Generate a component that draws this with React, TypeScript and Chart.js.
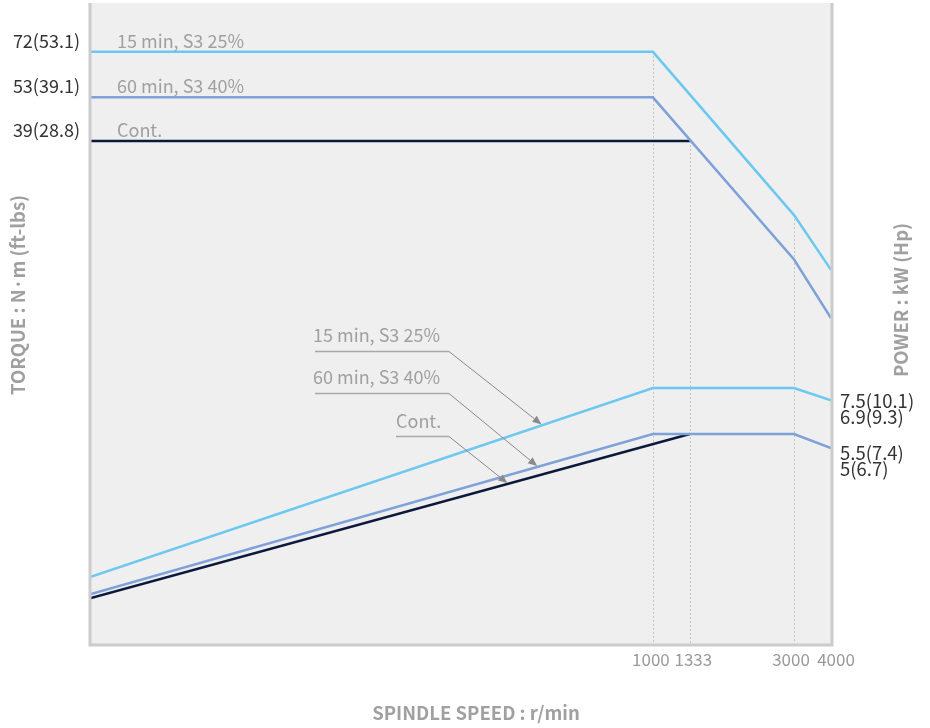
import React, { useEffect, useRef } from "react";
import { Chart, registerables } from "chart.js";

Chart.register(...registerables);

// ---------- data ----------
const speedTicks = [1000, 1333, 3000, 4000];

const torque15Speed = [12.5, 1000, 3000, 4000];
const torque15 = [72, 72, 24, 16.6];
const torque60Speed = [12.5, 1000, 3000, 4000];
const torque60 = [53, 53, 17.8, 12.0];
const torqueContSpeed = [12.5, 1333];
const torqueCont = [39.5, 39.5];

const power15Speed = [12.5, 1000, 3000, 4000];
const power15 = [2.1, 7.5, 7.5, 6.9];
const power60Speed = [12.5, 1000, 3000, 4000];
const power60 = [1.87, 5.5, 5.5, 5.0];
const powerContSpeed = [12.5, 1333];
const powerCont = [1.82, 5.5];

const seriesNames = ["15 min, S3 25%", "60 min, S3 40%", "Cont."];
const torqueLabels = ["72(53.1)", "53(39.1)", "39(28.8)"];
const power15Labels = ["7.5(10.1)", "6.9(9.3)"];
const power60Labels = ["5.5(7.4)", "5(6.7)"];
const arrowTipSpeeds = [420, 406, 322];

const xTitle = "SPINDLE SPEED : r/min";
const yLeftTitle = "TORQUE : N·m (ft-lbs)";
const yRightTitle = "POWER : kW (Hp)";

// ---------- styles ----------
const FONT = '"Noto Sans CJK KR", "Noto Sans", sans-serif';
const C15 = "#6cc8f0";
const C60 = "#7ea1d9";
const CCONT = "#0b1a3c";
const GREY_TEXT = "#a0a0a0";
const DARK_TEXT = "#333333";
const tickLabelShift = [-2, 3.5, -3, 5];

const pts = (xs: number[], ys: number[]) => xs.map((x, i) => ({ x, y: ys[i] }));

function yOnDataset(chart: any, dsIndex: number, px: number): number {
  const meta = chart.getDatasetMeta(dsIndex);
  const els = meta.data;
  for (let i = 0; i < els.length - 1; i++) {
    const a = els[i], b = els[i + 1];
    if (px >= a.x && px <= b.x) {
      const t = (px - a.x) / (b.x - a.x || 1);
      return a.y + t * (b.y - a.y);
    }
  }
  return els[els.length - 1].y;
}

const decorPlugin = {
  id: "decor",
  beforeDatasetsDraw(chart: any) {
    const { ctx, chartArea: ca, scales } = chart;
    const x = scales.x, y = scales.y;
    ctx.save();
    ctx.fillStyle = "#efefef";
    ctx.fillRect(ca.left, ca.top, ca.right - ca.left, ca.bottom - ca.top);

    // dotted guides
    const guides: [number, number][] = [
      [torque15Speed[1], torque15[1]],
      [torqueContSpeed[1], torqueCont[1]],
      [torque15Speed[2], torque15[2]],
    ];
    ctx.strokeStyle = "#c4c4c4";
    ctx.lineWidth = 1;
    ctx.setLineDash([2, 2]);
    guides.forEach(([s, v]) => {
      const px = Math.round(x.getPixelForValue(s)) + 0.5;
      ctx.beginPath();
      ctx.moveTo(px, y.getPixelForValue(v));
      ctx.lineTo(px, ca.bottom);
      ctx.stroke();
    });
    ctx.setLineDash([]);
    ctx.restore();
  },
  afterDatasetsDraw(chart: any) {
    const { ctx, chartArea: ca, scales } = chart;
    const x = scales.x, y = scales.y;
    ctx.save();

    // frame
    ctx.strokeStyle = "#cccccc";
    ctx.lineWidth = 3;
    ctx.beginPath();
    ctx.moveTo(ca.left, ca.top);
    ctx.lineTo(ca.left, ca.bottom);
    ctx.lineTo(ca.right + 1, ca.bottom);
    ctx.lineTo(ca.right + 1, ca.top);
    ctx.stroke();

    // x tick labels (positioned from the x scale)
    ctx.fillStyle = "#9a9a9a";
    ctx.font = `400 17px ${FONT}`;
    ctx.textAlign = "center";
    ctx.textBaseline = "middle";
    x.ticks.forEach((t: any, i: number) => {
      const px = x.getPixelForValue(t.value) + (tickLabelShift[i] || 0);
      ctx.fillText(String(t.value), px, ca.bottom + 15);
    });

    // left torque labels and series names
    const torqueVals = [torque15[0], torque60[0], torqueCont[0]];
    ctx.font = `400 18px ${FONT}`;
    ctx.textBaseline = "alphabetic";
    torqueVals.forEach((v, i) => {
      const py = y.getPixelForValue(v) - 4;
      ctx.fillStyle = DARK_TEXT;
      ctx.textAlign = "right";
      ctx.fillText(torqueLabels[i], ca.left - 10, py);
      ctx.fillStyle = GREY_TEXT;
      ctx.textAlign = "left";
      ctx.fillText(seriesNames[i], ca.left + 27, py);
    });

    // right power labels
    ctx.fillStyle = DARK_TEXT;
    ctx.textAlign = "left";
    ctx.textBaseline = "middle";
    ctx.font = `400 18.5px ${FONT}`;
    const end15 = y.getPixelForValue(power15[power15.length - 1]);
    const end60 = y.getPixelForValue(power60[power60.length - 1]);
    ctx.fillText(power15Labels[0], ca.right + 9, end15 + 1);
    ctx.fillText(power15Labels[1], ca.right + 9, end15 + 17);
    ctx.fillText(power60Labels[0], ca.right + 9, end60 + 5);
    ctx.fillText(power60Labels[1], ca.right + 9, end60 + 21);

    // leader labels with arrows
    const leaders = [
      { ds: 3, textX: 313, textY: 335, lineY: 351.5, startX: 315 },
      { ds: 4, textX: 313, textY: 377, lineY: 393.5, startX: 315 },
      { ds: 5, textX: 396, textY: 421, lineY: 436.5, startX: 396 },
    ];
    const elbowX = 449;
    leaders.forEach((l, i) => {
      const tipX = x.getPixelForValue(arrowTipSpeeds[i]);
      const tipY = yOnDataset(chart, l.ds, tipX) - 1;
      ctx.fillStyle = GREY_TEXT;
      ctx.font = `400 18px ${FONT}`;
      ctx.textAlign = "left";
      ctx.textBaseline = "middle";
      ctx.fillText(seriesNames[i], l.textX, l.textY);
      ctx.strokeStyle = "#a8a8a8";
      ctx.lineWidth = 1.3;
      ctx.beginPath();
      ctx.moveTo(l.startX, l.lineY);
      ctx.lineTo(elbowX, l.lineY);
      ctx.stroke();
      ctx.strokeStyle = "#8a8a8a";
      ctx.lineWidth = 1;
      const ang = Math.atan2(tipY - l.lineY, tipX - elbowX);
      const len = 9, hw = 3.8;
      const bx = tipX - len * Math.cos(ang), by = tipY - len * Math.sin(ang);
      ctx.beginPath();
      ctx.moveTo(elbowX, l.lineY);
      ctx.lineTo(bx, by);
      ctx.stroke();
      ctx.fillStyle = "#8a8a8a";
      ctx.beginPath();
      ctx.moveTo(tipX, tipY);
      ctx.lineTo(bx + hw * Math.sin(ang), by - hw * Math.cos(ang));
      ctx.lineTo(bx - hw * Math.sin(ang), by + hw * Math.cos(ang));
      ctx.closePath();
      ctx.fill();
    });

    // axis titles
    ctx.fillStyle = GREY_TEXT;
    ctx.font = `700 18.5px ${FONT}`;
    ctx.textAlign = "center";
    ctx.textBaseline = "middle";
    ctx.fillText(xTitle, 476, 713);
    ctx.save();
    ctx.translate(18, 295);
    ctx.rotate(-Math.PI / 2);
    ctx.fillText(yLeftTitle, 0, 0);
    ctx.restore();
    ctx.save();
    ctx.translate(901, 300);
    ctx.rotate(-Math.PI / 2);
    ctx.fillText(yRightTitle, 0, 0);
    ctx.restore();

    ctx.restore();
  },
};

const lineDs = (label: string, data: any[], color: string, width: number) => ({
  label,
  data,
  borderColor: color,
  backgroundColor: color,
  borderWidth: width,
  pointRadius: 0,
  pointHoverRadius: 0,
  tension: 0,
  fill: false,
});

export default function App() {
  const ref = useRef<HTMLCanvasElement>(null);
  useEffect(() => {
    const canvas = ref.current;
    if (!canvas) return;
    let alive = true;
    const chart = new Chart(canvas, {
      type: "line",
      data: {
        datasets: [
          lineDs("T 15", pts(torque15Speed, torque15), C15, 2.5),
          lineDs("T 60", pts(torque60Speed, torque60), C60, 2.5),
          lineDs("T Cont", pts(torqueContSpeed, torqueCont), CCONT, 2.5),
          lineDs("P 15", pts(power15Speed, power15), C15, 2.5),
          lineDs("P 60", pts(power60Speed, power60), C60, 2.5),
          lineDs("P Cont", pts(powerContSpeed, powerCont), CCONT, 2.5),
        ] as any,
      },
      options: {
        responsive: false,
        animation: false,
        devicePixelRatio: 1,
        layout: { padding: { left: 90, right: 99, top: 3, bottom: 0 } },
        plugins: { legend: { display: false }, tooltip: { enabled: false } },
        events: [],
        scales: {
          x: {
            type: "logarithmic",
            min: 12.5,
            max: 4000,
            position: "bottom",
            grid: { display: false, drawTicks: false },
            border: { display: false },
            ticks: {
              display: false,
              autoSkip: false,
              maxRotation: 0,
              callback: (v: any) => String(v),
            },
            afterBuildTicks: (axis: any) => {
              axis.ticks = speedTicks.map((v) => ({ value: v }));
            },
            afterFit: (axis: any) => {
              axis.height = 83;
            },
          },
          y: {
            type: "logarithmic",
            min: 1.33,
            max: 100,
            display: false,
          },
        },
      } as any,
      plugins: [decorPlugin],
    });
    (document as any).fonts?.ready?.then(() => {
      if (alive) chart.update();
    });
    return () => {
      alive = false;
      chart.destroy();
    };
  }, []);
  return (
    <div style={{ position: "fixed", left: 0, top: 0, width: 930, height: 728, background: "#fff" }}>
      <canvas ref={ref} width={930} height={728} style={{ display: "block", width: 930, height: 728 }} />
    </div>
  );
}
